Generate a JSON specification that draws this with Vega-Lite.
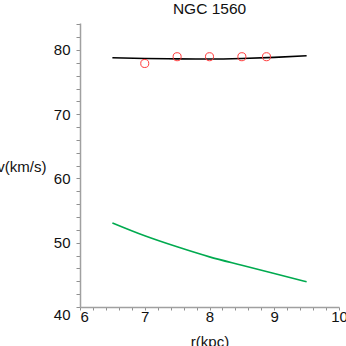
{
  "$schema": "https://vega.github.io/schema/vega-lite/v6.json",
  "width": 259,
  "height": 284,
  "autosize": {"type": "none"},
  "padding": {"left": 80, "top": 23, "right": 7, "bottom": 39},
  "background": "white",
  "title": {
    "text": "NGC 1560",
    "font": "Liberation Sans",
    "fontSize": 15.5,
    "fontWeight": "normal",
    "color": "#111",
    "anchor": "middle",
    "frame": "group",
    "baseline": "top",
    "offset": 0
  },
  "config": {
    "view": {"stroke": null},
    "axis": {
      "grid": false,
      "domainColor": "#a0a0a0",
      "domainWidth": 1.5,
      "tickColor": "#909090",
      "tickWidth": 1,
      "labelFont": "Liberation Sans",
      "labelFontSize": 15,
      "labelColor": "#111",
      "titleFont": "Liberation Sans",
      "titleFontSize": 15,
      "titleFontWeight": "normal",
      "titleColor": "#111"
    }
  },
  "datasets": {
    "model": [
      {"r": 6.5, "v": 78.78}, {"r": 7.0, "v": 78.68}, {"r": 7.5, "v": 78.62},
      {"r": 8.0, "v": 78.6}, {"r": 8.5, "v": 78.68}, {"r": 9.0, "v": 78.85},
      {"r": 9.5, "v": 79.1}
    ],
    "green": [
      {"r": 6.5, "v": 53.08}, {"r": 7.0, "v": 51.08}, {"r": 7.5, "v": 49.36},
      {"r": 8.0, "v": 47.8}, {"r": 8.5, "v": 46.49}, {"r": 9.0, "v": 45.2},
      {"r": 9.5, "v": 43.93}
    ],
    "obs": [
      {"r": 7.0, "v": 77.9}, {"r": 7.5, "v": 78.95}, {"r": 8.0, "v": 78.95},
      {"r": 8.5, "v": 78.95}, {"r": 8.88, "v": 78.95}
    ]
  },
  "encoding": {
    "x": {
      "field": "r", "type": "quantitative",
      "scale": {"domain": [6, 10], "nice": false, "zero": false},
      "axis": {
        "title": "r(kpc)",
        "titlePadding": 10,
        "values": [6,6.2,6.4,6.6,6.8,7,7.2,7.4,7.6,7.8,8,8.2,8.4,8.6,8.8,9,9.2,9.4,9.6,9.8,10],
        "labelExpr": "abs(datum.value - round(datum.value)) < 0.01 ? format(datum.value, 'd') : ''",
        "labelAlign": {"condition": {"test": "datum.value == 6", "value": "left"}, "value": "center"},
        "tickSize": 3,
        "labelPadding": -1,
        "labelFlush": false,
        "labelOverlap": false
      }
    },
    "y": {
      "field": "v", "type": "quantitative",
      "scale": {"domain": [40, 84.2], "nice": false, "zero": false},
      "axis": {
        "title": "v(km/s)",
        "titleAngle": 0,
        "titleAlign": "right",
        "titleBaseline": "middle",
        "titleX": -34,
        "titleY": 143,
        "values": [40,42,44,46,48,50,52,54,56,58,60,62,64,66,68,70,72,74,76,78,80,82,84],
        "labelExpr": "datum.value % 10 == 0 ? format(datum.value, 'd') : ''",
        "labelBaseline": {"condition": {"test": "datum.value == 40", "value": "top"}, "value": "middle"},
        "tickSize": 4,
        "labelPadding": 6,
        "labelOverlap": false
      }
    }
  },
  "layer": [
    {
      "data": {"name": "green"},
      "mark": {"type": "line", "color": "#00aa4f", "strokeWidth": 1.6, "interpolate": "monotone"}
    },
    {
      "data": {"name": "model"},
      "mark": {"type": "line", "color": "#000000", "strokeWidth": 1.6, "interpolate": "monotone"}
    },
    {
      "data": {"name": "obs"},
      "mark": {"type": "point", "shape": "circle", "filled": false, "color": "#ff3b3b", "strokeWidth": 1, "size": 65, "opacity": 1}
    }
  ]
}
